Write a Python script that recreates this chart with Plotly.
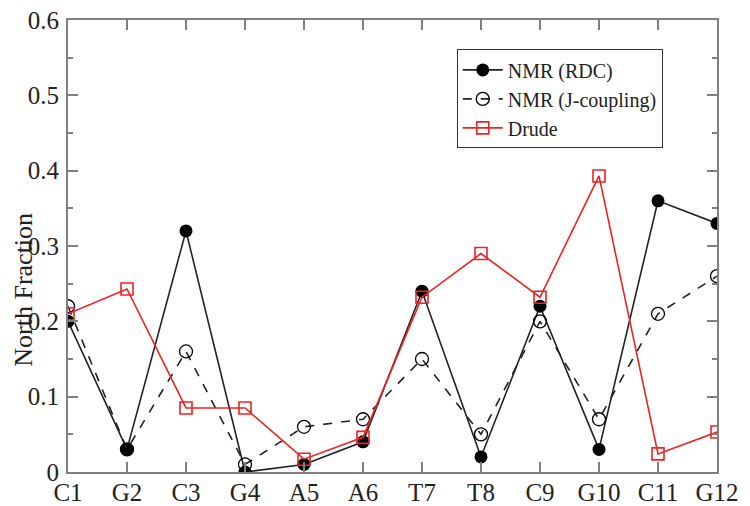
import plotly.graph_objects as go

# sequence positions along the x axis
bases = ['C1', 'G2', 'C3', 'G4', 'A5', 'A6', 'T7', 'T8', 'C9', 'G10', 'C11', 'G12']

# north fraction per base
nmr_rdc = [0.20, 0.03, 0.32, 0.00, 0.01, 0.04, 0.24, 0.02, 0.22, 0.03, 0.36, 0.33]
nmr_jcoup = [0.22, 0.03, 0.16, 0.01, 0.06, 0.07, 0.15, 0.05, 0.20, 0.07, 0.21, 0.26]
drude = [0.21, 0.243, 0.085, 0.085, 0.017, 0.046, 0.232, 0.29, 0.232, 0.393, 0.024, 0.053]

fig = go.Figure()
fig.add_trace(go.Scatter(
    x=bases, y=nmr_rdc, name='NMR (RDC)', mode='lines+markers',
    line=dict(color='#222222', width=1.6),
    marker=dict(symbol='circle', size=13, color='black')
))
fig.add_trace(go.Scatter(
    x=bases, y=nmr_jcoup, name='NMR (J-coupling)', mode='lines+markers',
    line=dict(color='#222222', width=1.6, dash='dash'),
    marker=dict(symbol='circle-open', size=13, color='black', line=dict(width=1.3))
))
fig.add_trace(go.Scatter(
    x=bases, y=drude, name='Drude', mode='lines+markers',
    line=dict(color='#ee2222', width=1.6),
    marker=dict(symbol='square-open', size=12, color='#ee2222', line=dict(width=1.6))
))

axis_font = dict(family='Liberation Serif', size=25, color='#222222')
fig.update_layout(
    width=750, height=506,
    margin=dict(l=68, r=33, t=20, b=34),
    plot_bgcolor='white', paper_bgcolor='white',
    font=dict(family='Liberation Serif', color='#222222'),
    showlegend=True,
    legend=dict(
        x=0.599, y=0.935, xanchor='left', yanchor='top',
        bgcolor='white', bordercolor='#333333', borderwidth=1,
        font=dict(family='Liberation Serif', size=20, color='#222222'),
        tracegroupgap=0, itemwidth=40
    ),
    xaxis=dict(
        type='category', range=[0, 11], automargin=False,
        showline=True, linecolor='#808080', linewidth=2, mirror='ticks',
        ticks='inside', ticklen=10, tickwidth=1.5, tickcolor='#808080',
        tickfont=axis_font, showgrid=False, zeroline=False, ticklabelstandoff=-3
    ),
    yaxis=dict(
        range=[0, 0.6], dtick=0.1, tickformat='.1~f', automargin=False,
        showline=True, linecolor='#808080', linewidth=2, mirror='ticks',
        ticks='inside', ticklen=10, tickwidth=1.5, tickcolor='#808080',
        minor=dict(ticks='inside', dtick=0.05, ticklen=5, tickcolor='#808080'),
        tickfont=axis_font, showgrid=False, zeroline=False, ticklabelstandoff=2
    ),
    annotations=[dict(
        text='North Fraction', textangle=-90, showarrow=False,
        xref='paper', yref='paper', x=-0.068, y=0.403,
        xanchor='center', yanchor='middle',
        font=dict(family='Liberation Serif', size=26, color='#222222')
    )]
)

# drop the browser's default page margin so the figure fills the window
fig.write_html("out.html", config=dict(displayModeBar=False),
               post_script="document.body.style.margin='0';")
